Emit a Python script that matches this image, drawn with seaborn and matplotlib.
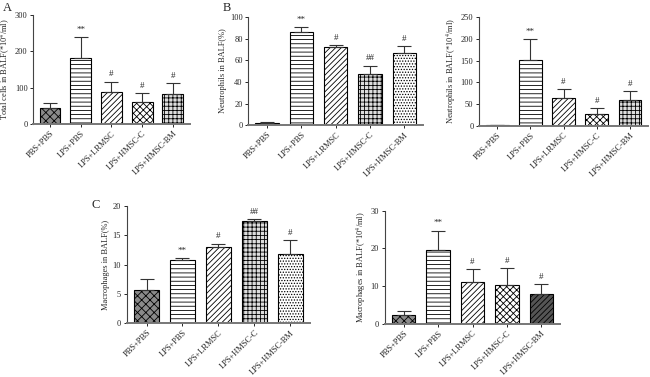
import matplotlib
matplotlib.use("Agg")
import matplotlib.pyplot as plt
import seaborn as sns
import numpy as np

groups = ["PBS+PBS", "LPS+PBS", "LPS+LRMSC", "LPS+HMSC-C", "LPS+HMSC-BM"]

total_cells = [45, 183, 87, 60, 83]
total_cells_top = [57, 240, 117, 86, 112]
total_cells_sig = ["", "**", "#", "#", "#"]

neut_pct = [2, 86, 72, 47, 67]
neut_pct_top = [3, 91, 74, 55, 73]
neut_pct_sig = ["", "**", "#", "##", "#"]

neut_cnt = [2, 152, 63, 27, 60]
neut_cnt_top = [2.5, 200, 85, 40, 79]
neut_cnt_sig = ["", "**", "#", "#", "#"]

mac_pct = [5.7, 10.8, 13.0, 17.5, 11.8]
mac_pct_top = [7.5, 11.1, 13.6, 17.8, 14.2]
mac_pct_sig = ["", "**", "#", "##", "#"]

mac_cnt = [2.3, 19.7, 11.0, 10.3, 8.0]
mac_cnt_top = [3.5, 24.7, 14.5, 14.8, 10.5]
mac_cnt_sig = ["", "**", "#", "#", "#"]

sns.set_style("ticks")
plt.rcParams["font.family"] = ["Liberation Serif", "DejaVu Serif"]
plt.rcParams["mathtext.fontset"] = "stix"
plt.rcParams["hatch.linewidth"] = 0.6
plt.rcParams["font.size"] = 6

fig = plt.figure(figsize=(6.5, 3.77), dpi=100)

# (facecolor, hatch) per bar
chk_grey = ("#8a8a8a", "xxxx")
hline = ("white", "----")
diag = ("white", "//////")
chk_black = ("white", "XXXXX")
brick = ("#dddddd", "++++")
dots = ("white", "......")
dark_diag = ("#555555", "//////")


def panel(rect, vals, tops, sig, ylabel, yticks, styles, letter=None):
    ax = fig.add_axes(rect)
    sns.barplot(x=groups, y=vals, ax=ax, color="white", edgecolor="black",
                linewidth=0.8, width=0.68, errorbar=None)
    for p, (fc, h) in zip(ax.patches, styles):
        p.set_facecolor(fc)
        p.set_hatch(h)
        p.set_edgecolor("black")
    xs = np.arange(len(vals))
    v = np.array(vals)
    t = np.array(tops)
    ax.errorbar(xs, v, yerr=[np.zeros_like(v), t - v], fmt="none",
                ecolor="#333333", elinewidth=0.8, capsize=5, capthick=0.8)
    span = yticks[-1]
    for x, top, s in zip(xs, t, sig):
        if s:
            ax.text(x, top + span * 0.03, s, ha="center", va="bottom", fontsize=6.5)
    ax.set_xlim(-0.55, len(vals) - 0.45)
    ax.set_ylim(0, yticks[-1])
    ax.set_yticks(yticks)
    ax.set_xticks(xs)
    ax.set_xticklabels(groups, rotation=45, ha="right", rotation_mode="anchor")
    ax.set_ylabel(ylabel, fontsize=6, labelpad=2)
    ax.tick_params(labelsize=6, length=2.5, width=0.7, pad=1.5)
    for s in ["top", "right"]:
        ax.spines[s].set_visible(False)
    ax.spines["left"].set_color("#444444")
    ax.spines["left"].set_linewidth(0.8)
    ax.spines["bottom"].set_color("#777777")
    ax.spines["bottom"].set_linewidth(1.4)
    if letter:
        fig.text(letter[0], letter[1], letter[2], fontsize=9, ha="left", va="top")
    return ax


panel([0.051, 0.671, 0.241, 0.289], total_cells, total_cells_top, total_cells_sig,
      r"Total cells in BALF(*10$^4$/ml)", [0, 100, 200, 300],
      [chk_grey, hline, diag, chk_black, brick], (0.004, 0.995, "A"))

panel([0.382, 0.668, 0.269, 0.287], neut_pct, neut_pct_top, neut_pct_sig,
      "Neutrophils in BALF(%)", [0, 20, 40, 60, 80, 100],
      [chk_grey, hline, diag, brick, dots], (0.343, 0.995, "B"))

panel([0.737, 0.666, 0.26, 0.289], neut_cnt, neut_cnt_top, neut_cnt_sig,
      r"Neutrophils in BALF(*10$^4$/ml)", [0, 50, 100, 150, 200, 250],
      [chk_grey, hline, diag, chk_black, brick])

panel([0.195, 0.143, 0.282, 0.310], mac_pct, mac_pct_top, mac_pct_sig,
      "Macrophages in BALF(%)", [0, 5, 10, 15, 20],
      [chk_grey, hline, diag, brick, dots], (0.141, 0.472, "C"))

panel([0.592, 0.141, 0.27, 0.300], mac_cnt, mac_cnt_top, mac_cnt_sig,
      r"Macrophages in BALF(*10$^4$/ml)", [0, 10, 20, 30],
      [chk_grey, hline, diag, chk_black, dark_diag])

fig.savefig("out.png", dpi=100)
